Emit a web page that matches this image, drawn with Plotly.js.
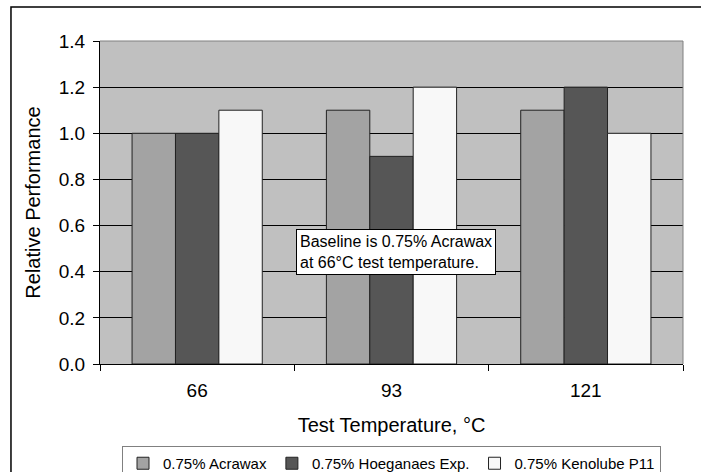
<!DOCTYPE html>
<html>
<head>
<meta charset="utf-8">
<script src="https://cdn.plot.ly/plotly-3.0.1.min.js"></script>
<style>
html,body{margin:0;padding:0;background:#fff;}
#chart{width:701px;height:472px;}
</style>
</head>
<body>
<div id="chart"></div>
<script>
var categories = ["66", "93", "121"];
var seriesNames = ["0.75% Acrawax", "0.75% Hoeganaes Exp.", "0.75% Kenolube P11"];
var acrawax = [1.0, 1.1, 1.1];
var hoeganaes = [1.0, 0.9, 1.2];
var kenolube = [1.1, 1.2, 1.0];
var yTicks = [0, 0.2, 0.4, 0.6, 0.8, 1.0, 1.2, 1.4];
var yTickLabels = ["0.0", "0.2", "0.4", "0.6", "0.8", "1.0", "1.2", "1.4"];
var xTitle = "Test Temperature, °C";
var yTitle = "Relative Performance";
var noteText = "Baseline is 0.75% Acrawax<br>at 66°C test temperature.";

var colors = ["#a3a3a3", "#565656", "#f8f8f8"];
var values = [acrawax, hoeganaes, kenolube];
var FONT = "Liberation Sans, Arial, sans-serif";

var traces = values.map(function(v, i) {
  return {
    type: "bar",
    name: seriesNames[i],
    x: categories,
    y: v,
    marker: {color: colors[i], line: {color: "#222", width: 1}},
    hoverinfo: "x+y+name"
  };
});

var layout = {
  width: 701, height: 472,
  margin: {l: 100, r: 18, t: 41, b: 108, autoexpand: false},
  paper_bgcolor: "#ffffff",
  plot_bgcolor: "#c0c0c0",
  font: {family: FONT, color: "#000", size: 19},
  barmode: "group",
  bargap: 0.33,
  bargroupgap: 0,
  showlegend: true,
  legend: {
    orientation: "h",
    xref: "container", yref: "container",
    x: 0.5585, xanchor: "center",
    y: 0.0551, yanchor: "top",
    bordercolor: "#808080", borderwidth: 1,
    bgcolor: "#fff",
    font: {family: FONT, size: 15, color: "#000"},
    itemclick: false
  },
  xaxis: {
    type: "category",
    tickson: "boundaries",
    ticks: "outside", ticklen: 6, tickcolor: "#000", tickwidth: 1,
    ticklabelstandoff: 9,
    showline: true, linecolor: "#000", linewidth: 1,
    showgrid: false,
    tickfont: {family: FONT, size: 19},
    title: {text: xTitle, font: {family: FONT, size: 20}, standoff: 18}
  },
  yaxis: {
    range: [0, 1.4],
    tickvals: yTicks, ticktext: yTickLabels,
    ticks: "outside", ticklen: 6, tickcolor: "#000", tickwidth: 1,
    ticklabelstandoff: 4,
    showline: true, linecolor: "#000", linewidth: 1,
    showgrid: true, gridcolor: "#000", gridwidth: 1,
    zeroline: false,
    tickfont: {family: FONT, size: 19},
    title: {text: yTitle, font: {family: FONT, size: 20}, standoff: 12}
  },
  annotations: [{
    xref: "paper", yref: "y",
    x: 0.5077, y: 0.4854,
    xanchor: "center", yanchor: "middle",
    text: noteText, align: "left", showarrow: false,
    font: {family: FONT, size: 16, color: "#000"},
    bgcolor: "#fff", bordercolor: "#000", borderwidth: 1, borderpad: 3
  }],
  shapes: [
    {type: "line", xref: "paper", yref: "paper", x0: 0, x1: 1, y0: 1, y1: 1,
     line: {color: "#808080", width: 1}, layer: "above"},
    {type: "line", xref: "paper", yref: "paper", x0: 1, x1: 1, y0: 0, y1: 1,
     line: {color: "#808080", width: 1}, layer: "above"},
    {type: "rect", xref: "paper", yref: "paper",
     x0: -0.1527, x1: 1.2, y0: -0.5, y1: 1.105,
     line: {color: "#000", width: 1.5}, fillcolor: "rgba(0,0,0,0)", layer: "below"}
  ]
};

Plotly.newPlot("chart", traces, layout, {displayModeBar: false, staticPlot: true});
</script>
</body>
</html>
